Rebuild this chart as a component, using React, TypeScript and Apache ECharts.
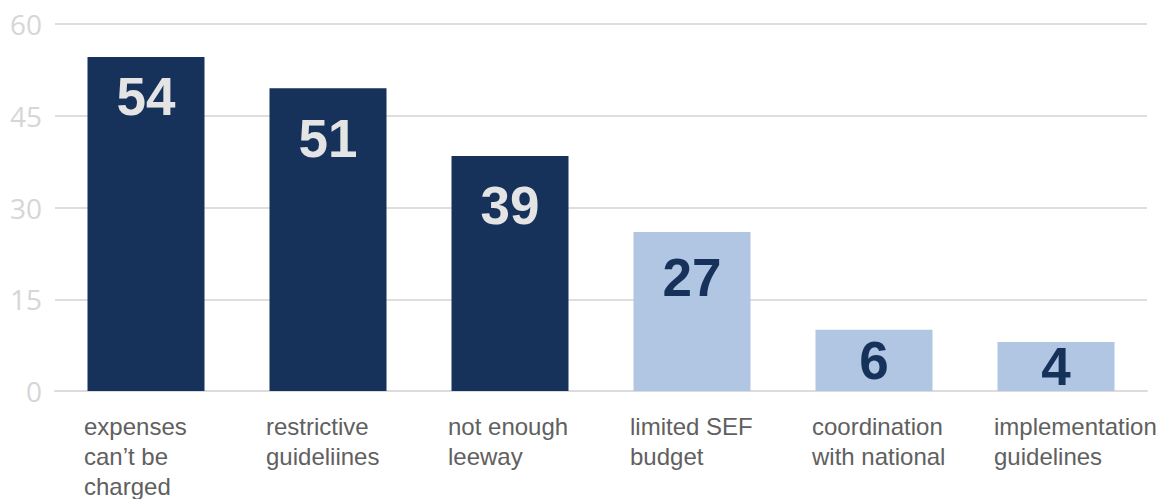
import React, { useEffect, useRef } from "react";
import * as echarts from "echarts";

const categories = [
  "expenses\ncan’t be\ncharged",
  "restrictive\nguideliines",
  "not enough\nleeway",
  "limited SEF\nbudget",
  "coordination\nwith national",
  "implementation\nguidelines",
];
// bar heights as drawn in the picture
const barHeights = [54.6, 49.5, 38.4, 26.0, 10.0, 8.0];
// value labels printed on the bars
const barLabels = [54, 51, 39, 27, 6, 4];
const highlighted = [true, true, true, false, false, false];
const yTicks = { min: 0, max: 60, interval: 15 };

const DARK = "#16325a";
const LIGHT = "#b0c6e2";
const labelDistances = [13, 24, 23, 19, 0, 0];

export default function App() {
  const ref = useRef<HTMLDivElement>(null);
  useEffect(() => {
    if (!ref.current) return;
    const chart = echarts.init(ref.current, undefined, { renderer: "svg" });
    const data = barHeights.map((v, i) => ({
      value: v,
      itemStyle: { color: highlighted[i] ? DARK : LIGHT },
      label: {
        position: labelDistances[i] > 0 ? "insideTop" : "inside",
        distance: labelDistances[i],
        color: highlighted[i] ? "#e4e4e4" : "#16325a",
        formatter: () => String(barLabels[i]),
      },
    }));
    chart.setOption({
      animation: false,
      grid: { left: 55, right: 15, top: 24, bottom: 108, containLabel: false },
      xAxis: {
        type: "category",
        data: categories,
        axisTick: { show: false },
        axisLine: { show: true, lineStyle: { color: "#dcdcdc", width: 2 } },
        axisLabel: {
          interval: 0,
          margin: 20,
          align: "center",
          formatter: (val: string) =>
            val
              .split("\n")
              .map((l) => `{a|${l}}`)
              .join("\n"),
          rich: {
            a: {
              width: 124,
              align: "left",
              fontSize: 24,
              lineHeight: 30,
              color: "#606060",
              fontFamily: "Liberation Sans, Arial, sans-serif",
            },
          },
        },
      },
      yAxis: {
        type: "value",
        min: yTicks.min,
        max: yTicks.max,
        interval: yTicks.interval,
        axisLine: { show: false },
        axisTick: { show: false },
        axisLabel: {
          margin: 13,
          fontSize: 28,
          color: "#d6d6d6",
          fontFamily: "Open Sans, sans-serif",
        },
        splitLine: { lineStyle: { color: "#dedede", width: 2 } },
      },
      series: [
        {
          type: "bar",
          barWidth: 117,
          data,
          label: {
            show: true,
            fontSize: 53,
            fontWeight: "bold",
            fontFamily: "Liberation Sans, Arial, sans-serif",
          },
        },
      ],
    });
    return () => chart.dispose();
  }, []);
  return (
    <div
      ref={ref}
      style={{ position: "absolute", left: 0, top: 0, width: 1162, height: 499 }}
    />
  );
}
